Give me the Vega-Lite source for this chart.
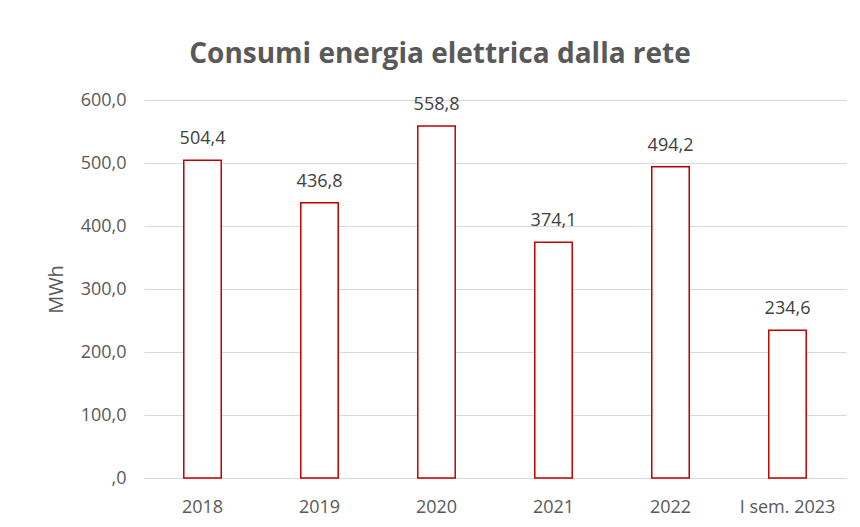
{
  "$schema": "https://vega.github.io/schema/vega-lite/v6.json",
  "width": 702,
  "height": 378,
  "autosize": {"type": "none"},
  "padding": {"left": 144, "top": 100, "right": 14, "bottom": 49},
  "background": "white",
  "config": {
    "locale": {"number": {"decimal": ",", "thousands": ".", "grouping": [3], "currency": ["€", ""]}},
    "view": {"stroke": null},
    "font": "Open Sans"
  },
  "title": {
    "text": "Consumi energia elettrica dalla rete",
    "fontSize": 28,
    "fontWeight": "bold",
    "color": "#595959",
    "font": "Open Sans",
    "offset": 22,
    "dx": -55
  },
  "data": {
    "values": [
      {"anno": "2018", "mwh": 504.4},
      {"anno": "2019", "mwh": 436.8},
      {"anno": "2020", "mwh": 558.8},
      {"anno": "2021", "mwh": 374.1},
      {"anno": "2022", "mwh": 494.2},
      {"anno": "I sem. 2023", "mwh": 234.6}
    ]
  },
  "encoding": {
    "x": {
      "field": "anno",
      "type": "nominal",
      "sort": null,
      "scale": {"paddingInner": 0.68, "paddingOuter": 0.34},
      "axis": {
        "title": null,
        "labelAngle": 0,
        "labelFontSize": 18,
        "labelColor": "#595959",
        "labelPadding": 20,
        "ticks": false,
        "domainColor": "#d9d9d9",
        "domainWidth": 1
      }
    },
    "y": {
      "field": "mwh",
      "type": "quantitative",
      "scale": {"domain": [0, 600]},
      "axis": {
        "title": "MWh",
        "titleFontSize": 20,
        "titleFontWeight": "normal",
        "titleColor": "#595959",
        "titlePadding": 14,
        "values": [0, 100, 200, 300, 400, 500, 600],
        "labelExpr": "datum.value == 0 ? ',0' : format(datum.value, '.1f')",
        "labelFontSize": 18,
        "labelColor": "#595959",
        "labelPadding": 18,
        "ticks": false,
        "domain": false,
        "gridColor": "#d9d9d9",
        "gridWidth": 1
      }
    }
  },
  "layer": [
    {
      "mark": {"type": "bar", "fill": "white", "stroke": "#C00000", "strokeWidth": 1.5}
    },
    {
      "mark": {"type": "text", "dy": -16, "fontSize": 18, "color": "#404040", "baseline": "alphabetic"},
      "encoding": {"text": {"field": "mwh", "type": "quantitative", "format": ".1f"}}
    }
  ]
}
